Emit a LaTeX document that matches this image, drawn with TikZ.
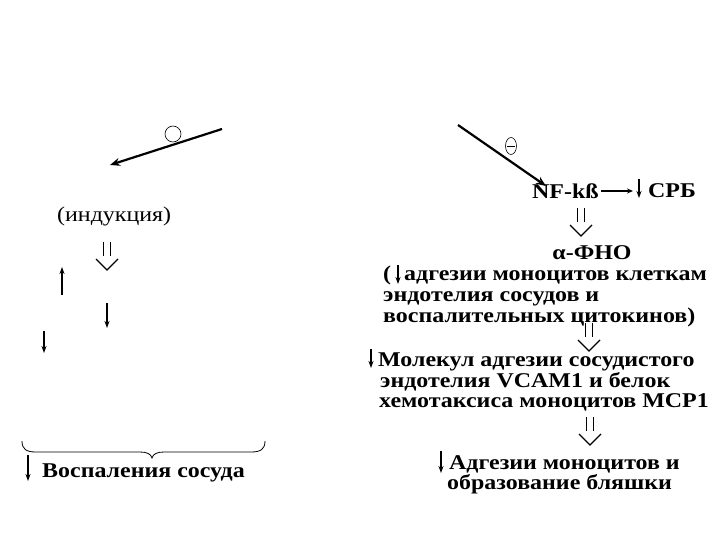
\documentclass[tikz,border=0pt]{standalone}
\usepackage{fontspec}
\setmainfont{Liberation Serif}
\newfontfamily\widefont[FakeStretch=1.14]{Liberation Serif}
\usetikzlibrary{arrows.meta,shapes.geometric}
\begin{document}
\begin{tikzpicture}[x=1pt,y=-1pt,
  bt/.style={font=\widefont\fontsize{21}{20}\selectfont\bfseries, inner sep=0pt, anchor=base west},
  nt/.style={font=\widefont\fontsize{21}{20}\selectfont, inner sep=0pt, anchor=base west},
  bigarrow/.style={line width=2.2pt, -{Stealth[length=10pt,width=8pt]}},
  smallarrow/.style={line width=1.3pt, -{Stealth[length=7pt,width=5pt]}},
  dblarrow/.pic={
    \draw[line width=1.3pt] (-3.5,0) -- (-3.5,14) (3.5,0) -- (3.5,14);
    \draw[line width=1.3pt] (-11,17) -- (0,28) -- (11,17);
  }]
\useasboundingbox (0,0) rectangle (720,540);
\fill[white] (0,0) rectangle (720,540);

% left branch
\coordinate (lstart) at (222,129);
\coordinate (lend) at (110,165);
\draw[bigarrow] (lstart) -- (lend);
\node[draw, circle, line width=0.6pt, minimum size=16pt, inner sep=0pt] (lcirc) at (173,134) {};
\node[nt] (ind) at (57,222) {(индукция)};
\pic (ldbl) at (107,242) {dblarrow};
\coordinate (u1a) at (62,295); \coordinate (u1b) at (62,267);
\draw[smallarrow] (u1a) -- (u1b);
\coordinate (d1a) at (107,303); \coordinate (d1b) at (107,328);
\draw[smallarrow] (d1a) -- (d1b);
\coordinate (d2a) at (44,331); \coordinate (d2b) at (44,353);
\draw[smallarrow] (d2a) -- (d2b);

% brace
\coordinate (bl) at (22,441);
\coordinate (br) at (265,441);
\coordinate (bt) at (152,458);
\draw[line width=0.8pt] (bl) .. controls (22,449) and (26,452) .. (36,452)
  -- (140,452) .. controls (147,452) and (151,454) .. (bt)
  .. controls (153,454) and (157,452) .. (164,452)
  -- (251,452) .. controls (261,452) and (265,449) .. (br);
\coordinate (d3a) at (28,455); \coordinate (d3b) at (28,481);
\draw[smallarrow] (d3a) -- (d3b);
\node[bt] (vosp) at (42,477) {Воспаления сосуда};

% right branch
\coordinate (rstart) at (458,125);
\node[bt] (nf) at (532,199) {NF-kß};
\draw[bigarrow] (rstart) -- (546,186);
\node[draw, ellipse, line width=0.6pt, minimum width=11pt, minimum height=17pt, inner sep=0pt] (minus) at (511,146) {};
\draw[line width=0.6pt] ([xshift=-4pt]minus.center) -- ([xshift=4pt]minus.center);
\coordinate (nfa) at (601,191); \coordinate (nfb) at (633,191);
\draw[line width=1.2pt, -{Stealth[length=6pt,width=5pt]}] (nfa) -- (nfb);
\coordinate (d4a) at (639,179); \coordinate (d4b) at (639,198);
\draw[smallarrow] (d4a) -- (d4b);
\node[bt] (crb) at (648,197) {СРБ};
\pic (rdbl1) at (581,208) {dblarrow};
\node[bt, anchor=base] (fno) at (592,259) {α-ФНО};

\node[bt] (p1) at (383,280) {(\hspace{13pt}адгезии моноцитов клеткам};
\coordinate (d5a) at (398,265); \coordinate (d5b) at (398,284);
\draw[smallarrow] (d5a) -- (d5b);
\node[bt] (p2) at (383,301) {эндотелия сосудов и};
\node[bt] (p3) at (383,322) {воспалительных цитокинов)};
\pic (rdbl2) at (589,323) {dblarrow};

\coordinate (d6a) at (371,349); \coordinate (d6b) at (371,368);
\draw[smallarrow] (d6a) -- (d6b);
\node[bt] (m1) at (378,366) {Молекул адгезии сосудистого};
\node[bt] (m2) at (380,387) {эндотелия VCAM1 и белок};
\node[bt] (m3) at (379,407) {хемотаксиса моноцитов MCP1};
\pic (rdbl3) at (590,417) {dblarrow};

\coordinate (d7a) at (441,451); \coordinate (d7b) at (441,473);
\draw[smallarrow] (d7a) -- (d7b);
\node[bt] (a1) at (449,469) {Адгезии моноцитов и};
\node[bt] (a2) at (447,489) {образование бляшки};
\end{tikzpicture}
\end{document}
